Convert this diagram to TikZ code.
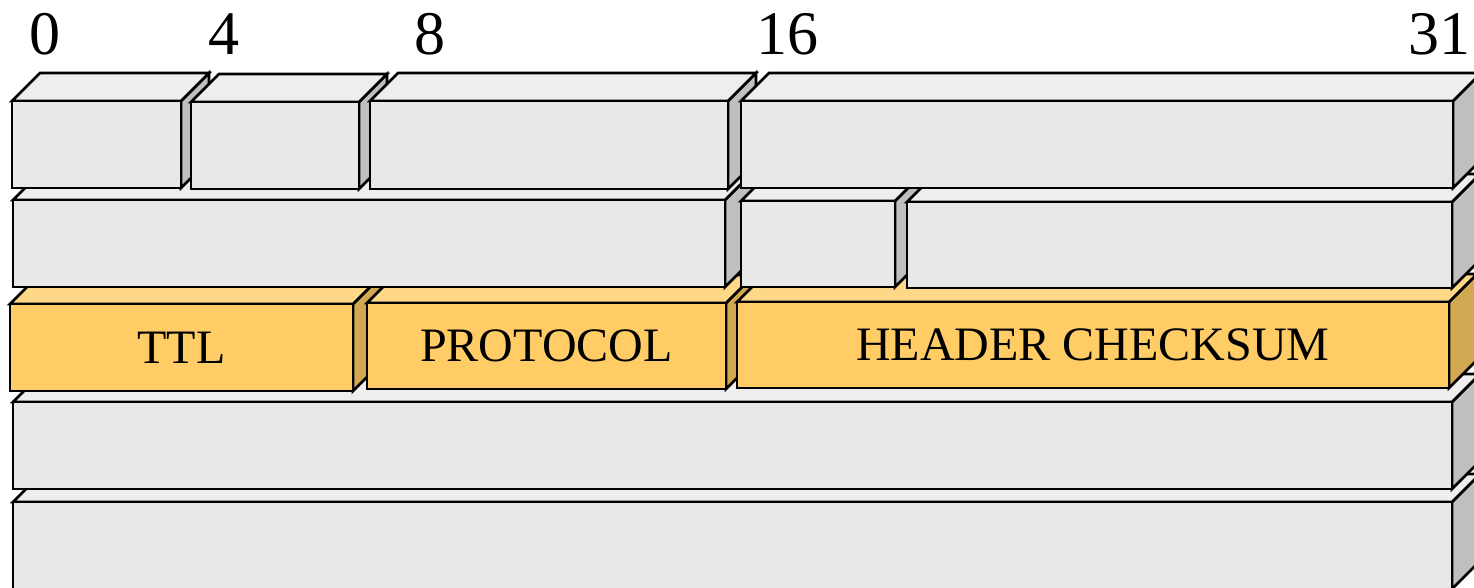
\documentclass[tikz,border=0pt]{standalone}
\usepackage{fontspec}
\setmainfont{Liberation Serif}
\usepackage{xcolor}
\usetikzlibrary{calc}

\definecolor{cellfront}{HTML}{E8E8E8}
\definecolor{celltop}{HTML}{EEEEEE}
\definecolor{cellside}{HTML}{BFBFBF}
\definecolor{hotfront}{HTML}{FFCC66}
\definecolor{hottop}{HTML}{FFD887}
\definecolor{hotside}{HTML}{D2A852}

\tikzset{
  plain front/.style={fill=cellfront},
  plain top/.style={fill=celltop},
  plain side/.style={fill=cellside},
  hot front/.style={fill=hotfront},
  hot top/.style={fill=hottop},
  hot side/.style={fill=hotside},
  field text/.style={font=\fontsize{24}{28}\selectfont, inner sep=0pt},
  bit num/.style={font=\fontsize{31}{36}\selectfont, anchor=base, inner sep=0pt}
}

% one header field as a block: name, x0, y0, x1, y1 (front face), kind, text
\newcommand{\ipfield}[7]{%
  \draw[#6 side] (#4,#3) -- ++(28,-28) -- ++(0,{#5-#3}) -- (#4,#5) -- cycle;
  \draw[#6 top] (#2,#3) -- ++(28,-28) -- ({#4+28},{#3-28}) -- (#4,#3) -- cycle;
  \draw[#6 front] (#2,#3) rectangle (#4,#5);
  \node[field text] (#1) at ({(#2+#4)/2},{(#3+#5)/2}) {#7};
}

\begin{document}
\begin{tikzpicture}[x=0.5pt, y=-0.5pt, line width=1.3pt, line join=miter]

    \clip (0,0) rectangle (1474,588);

    % --- Bit positions ---
    \node[bit num] (bit0)  at (45,55)   {0};
    \node[bit num] (bit4)  at (224,55)  {4};
    \node[bit num] (bit8)  at (430,55)  {8};
    \node[bit num] (bit16) at (787,55)  {16};
    \node[bit num] (bit31) at (1439,55) {31};

    % --- Row 5: destination address ---
    \ipfield{dst}{13}{502}{1452}{589}{plain}{}

    % --- Row 4: source address ---
    \ipfield{src}{13}{402}{1452}{489}{plain}{}

    % --- Row 3: highlighted fields ---
    \ipfield{ttl}{10}{304}{353}{391}{hot}{TTL}
    \ipfield{proto}{367}{303}{726}{389}{hot}{PROTOCOL}
    \ipfield{csum}{737}{302}{1449}{388}{hot}{HEADER CHECKSUM}

    % --- Row 2: identification, flags, fragment offset ---
    \ipfield{ident}{13}{200}{725}{287}{plain}{}
    \ipfield{flags}{741}{201}{895}{287}{plain}{}
    \ipfield{frag}{907}{202}{1452}{288}{plain}{}

    % --- Row 1: version, IHL, type of service, total length ---
    \ipfield{ver}{12}{101}{181}{188}{plain}{}
    \ipfield{ihl}{191}{102}{359}{189}{plain}{}
    \ipfield{tos}{370}{101}{728}{189}{plain}{}
    \ipfield{len}{741}{101}{1453}{188}{plain}{}

\end{tikzpicture}
\end{document}
